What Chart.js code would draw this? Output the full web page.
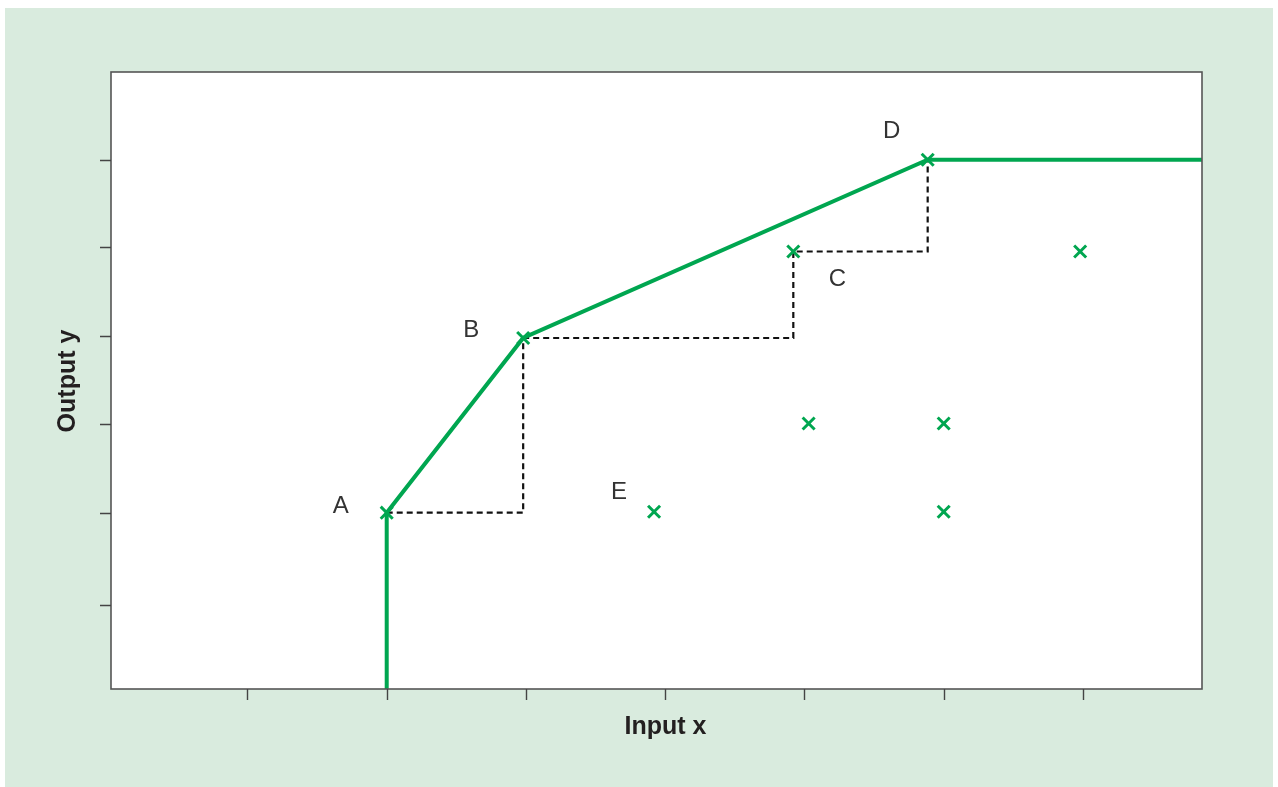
<!DOCTYPE html>
<html>
<head>
<meta charset="utf-8">
<script src="https://cdn.jsdelivr.net/npm/chart.js@4.4.1/dist/chart.umd.min.js"></script>
<style>
  html, body { margin: 0; padding: 0; background: #ffffff; }
  #wrap { width: 1278px; height: 787px; }
</style>
</head>
<body>
<div id="wrap"><canvas id="grafico" width="1278" height="787"></canvas></div>
<script>
// datos (unidades de los ejes, sin etiquetas numericas)
const xTicks = [1, 2, 3, 4, 5, 6, 7];
const yTicks = [1, 2.04, 3.04, 4.02, 5.02, 6.0];
const xRange = [0.02, 7.855];
const yRange = [0.062, 6.984];

// puntos observados (marcas x)
const puntosX = [2.0, 2.98, 4.92, 5.885, 3.92, 5.03, 6.0, 6.0, 6.98];
const puntosY = [2.04, 4.0, 4.97, 6.0, 2.05, 3.04, 3.04, 2.05, 4.97];

// frontera (linea verde)
const fronteraX = [2.0, 2.0, 2.98, 5.885, 7.855];
const fronteraY = [0.062, 2.04, 4.0, 6.0, 6.0];

// escalones punteados
const escalonX = [[2.0, 2.98, 2.98], [2.98, 4.92, 4.92, 5.885, 5.885]];
const escalonY = [[2.04, 2.04, 4.0], [4.0, 4.0, 4.97, 4.97, 6.0]];

// etiquetas de puntos: indice en puntosX/Y
const etiquetas = ['A', 'B', 'C', 'D', 'E'];
const etiquetaPunto = [0, 1, 2, 3, 4];
const etiquetaDesp = [[-46, -6], [-52, -8], [44, 28], [-36, -28], [-35, -19]];

const tituloX = 'Input x';
const tituloY = 'Output y';

const verde = '#00a650';
const fuente = '"Liberation Sans", Arial, Helvetica, sans-serif';

function zipPuntos(xs, ys) {
    return xs.map((x, i) => ({ x: x, y: ys[i] }));
}

const fondo = {
    id: 'fondo',
    beforeDraw(chart) {
        const c = chart.ctx;
        const a = chart.chartArea;
        c.save();
        c.fillStyle = '#ffffff';
        c.fillRect(0, 0, chart.width, chart.height);
        c.fillStyle = '#d9ebde';
        c.fillRect(5, 8, chart.width - 10, chart.height - 8);
        c.fillStyle = '#ffffff';
        c.fillRect(a.left, a.top, a.right - a.left, a.bottom - a.top);
        c.restore();
    },
    afterDatasetsDraw(chart) {
        const c = chart.ctx;
        const a = chart.chartArea;
        const sx = chart.scales.x;
        const sy = chart.scales.y;
        c.save();
        // marco
        c.strokeStyle = '#555555';
        c.lineWidth = 1.6;
        c.strokeRect(a.left, a.top, a.right - a.left, a.bottom - a.top);
        // marcas de los ejes
        c.strokeStyle = '#444444';
        c.lineWidth = 1.4;
        c.beginPath();
        xTicks.forEach(v => {
            const px = Math.round(sx.getPixelForValue(v)) + 0.5;
            c.moveTo(px, a.bottom);
            c.lineTo(px, a.bottom + 11);
        });
        yTicks.forEach(v => {
            const py = Math.round(sy.getPixelForValue(v)) + 0.5;
            c.moveTo(a.left, py);
            c.lineTo(a.left - 11, py);
        });
        c.stroke();
        // titulos
        c.fillStyle = '#231f20';
        c.font = 'bold 25px ' + fuente;
        c.textAlign = 'center';
        c.textBaseline = 'middle';
        c.fillText(tituloX, (a.left + a.right) / 2 + 9, a.bottom + 38);
        c.save();
        c.translate(68, 381);
        c.rotate(-Math.PI / 2);
        c.fillText(tituloY, 0, 0);
        c.restore();
        // etiquetas A-E
        c.font = '24px ' + fuente;
        c.fillStyle = '#333333';
        etiquetas.forEach((t, i) => {
            const k = etiquetaPunto[i];
            const px = sx.getPixelForValue(puntosX[k]) + etiquetaDesp[i][0];
            const py = sy.getPixelForValue(puntosY[k]) + etiquetaDesp[i][1];
            c.fillText(t, px, py);
        });
        c.restore();
    }
};

const datasets = [{
    label: 'puntos',
    data: zipPuntos(puntosX, puntosY),
    showLine: false,
    pointStyle: 'crossRot',
    pointRadius: 8.5,
    pointBorderWidth: 3,
    borderColor: verde,
    backgroundColor: verde,
    order: 0
}, {
    label: 'frontera',
    data: zipPuntos(fronteraX, fronteraY),
    showLine: true,
    borderColor: verde,
    borderWidth: 4,
    pointRadius: 0,
    tension: 0,
    order: 1
}];

escalonX.forEach((xs, i) => {
    datasets.push({
        label: 'escalon' + i,
        data: zipPuntos(xs, escalonY[i]),
        showLine: true,
        borderColor: '#111111',
        borderWidth: 2.2,
        borderDash: [6, 4],
        pointRadius: 0,
        tension: 0,
        order: 2
    });
});

const grafico = new Chart(document.getElementById('grafico').getContext('2d'), {
    type: 'scatter',
    data: { datasets: datasets },
    options: {
        responsive: false,
        animation: false,
        layout: { padding: { left: 111, top: 72, right: 76, bottom: 98 } },
        plugins: { legend: { display: false }, tooltip: { enabled: false } },
        scales: {
            x: { type: 'linear', min: xRange[0], max: xRange[1], display: false },
            y: { type: 'linear', min: yRange[0], max: yRange[1], display: false }
        }
    },
    plugins: [fondo]
});
</script>
</body>
</html>
